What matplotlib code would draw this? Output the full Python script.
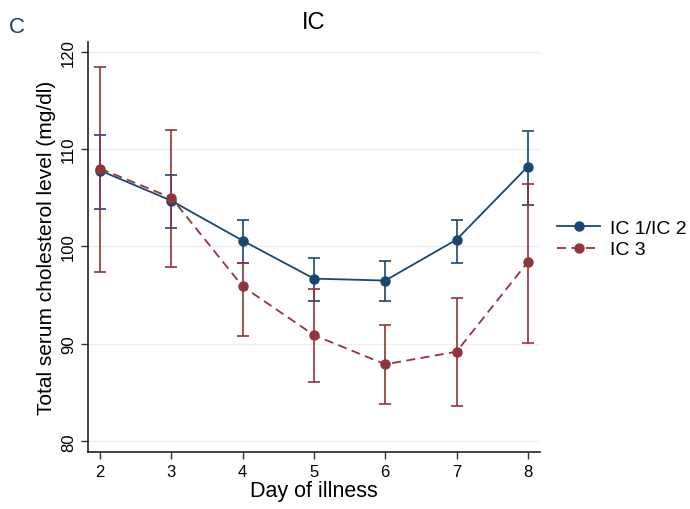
import matplotlib
matplotlib.use("Agg")
import matplotlib.pyplot as plt

plt.rcParams["font.family"] = ["Liberation Sans", "DejaVu Sans"]

days = [2, 3, 4, 5, 6, 7, 8]

# IC 1/IC 2
ic12_mean = [107.8, 104.7, 100.6, 96.7, 96.5, 100.7, 108.2]
ic12_hi = [111.4, 107.3, 102.7, 98.8, 98.5, 102.7, 111.9]
ic12_lo = [103.8, 101.9, 98.3, 94.4, 94.4, 98.3, 104.3]

# IC 3
ic3_mean = [108.0, 105.0, 95.9, 90.9, 87.9, 89.2, 98.4]
ic3_hi = [118.4, 112.0, 98.3, 95.6, 91.9, 94.7, 106.4]
ic3_lo = [97.4, 97.9, 90.8, 86.1, 83.8, 83.6, 90.1]

BLUE = "#1a476f"
RED = "#90353b"

fig = plt.figure(figsize=(6.9, 5.1), dpi=100)
ax = fig.add_axes([0.1275, 0.1118, 0.655, 0.804])

for mean, lo, hi, col, ls, lab in [
    (ic12_mean, ic12_lo, ic12_hi, BLUE, "-", "IC 1/IC 2"),
    (ic3_mean, ic3_lo, ic3_hi, RED, (0, (5, 3)), "IC 3"),
]:
    err = [[m - l for m, l in zip(mean, lo)], [h - m for m, h in zip(mean, hi)]]
    ax.errorbar(days, mean, yerr=err, fmt="none", ecolor=col, elinewidth=1.2,
                capsize=4, capthick=1.2, zorder=2)
    ax.plot(days, mean, color=col, ls=ls, lw=1.3, marker="o", ms=6.5,
            label=lab, zorder=3)

ax.set_xlim(1.83, 8.17)
ax.set_ylim(78.9, 121)
ax.set_xticks(days)
ax.set_yticks([80, 90, 100, 110, 120])
ax.set_yticklabels(["80", "90", "100", "110", "120"], rotation=90, va="center")
ax.tick_params(labelsize=12, length=5, width=1, color="#333333")
ax.grid(axis="y", color="#eeeeee", lw=1)
ax.set_axisbelow(True)
for s in ["top", "right"]:
    ax.spines[s].set_visible(False)
for s in ["left", "bottom"]:
    ax.spines[s].set_color("#222222")
    ax.spines[s].set_linewidth(1.2)

ax.set_xlabel("Day of illness", fontsize=15.5, labelpad=1)
ax.set_ylabel("Total serum cholesterol level (mg/dl)", fontsize=15, labelpad=4)
ax.set_title("IC", fontsize=17, pad=10)
fig.text(0.013, 0.935, "C", fontsize=16, color="#1f3f73")

ax.legend(loc="center left", bbox_to_anchor=(1.0, 0.52), frameon=False,
          fontsize=14, handlelength=2.2, handletextpad=0.5, labelspacing=0.2)

fig.savefig("out.png", dpi=100)
